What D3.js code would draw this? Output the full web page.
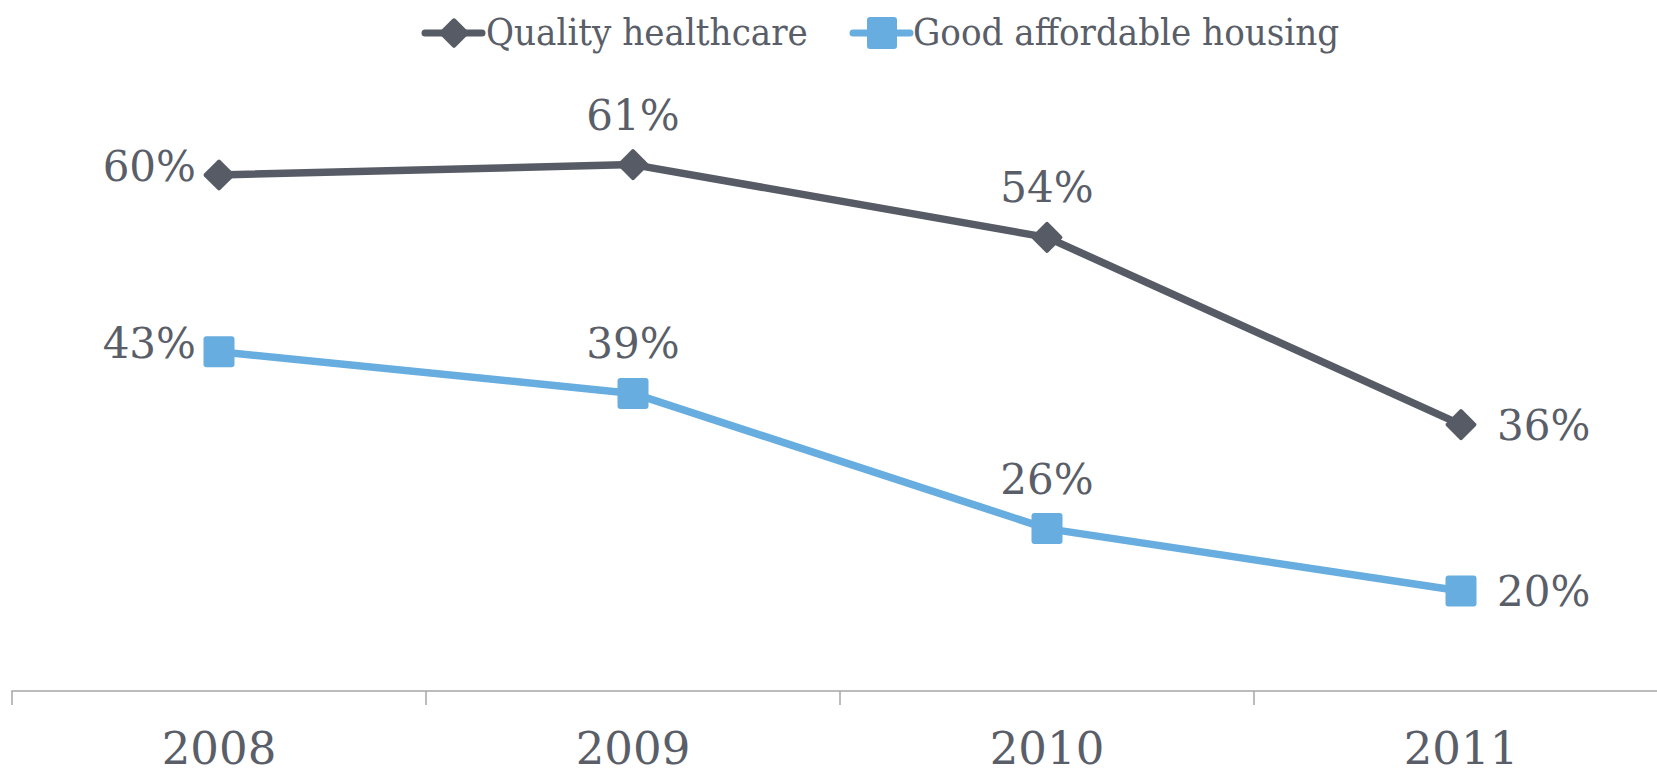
<!DOCTYPE html>
<html>
<head>
<meta charset="utf-8">
<script src="https://cdn.jsdelivr.net/npm/d3@7"></script>
<style>
  html, body { margin: 0; padding: 0; background: #ffffff; }
  svg { display: block; }
</style>
</head>
<body>
<svg id="chart" width="1657" height="770"></svg>
<script>
// ---- data ----
const years = ["2008", "2009", "2010", "2011"];
const healthcare = [60, 61, 54, 36];
const housing = [43, 39, 26, 20];
const seriesNames = ["Quality healthcare", "Good affordable housing"];
const healthcareLabelPos = ["left", "above", "above", "right"];
const housingLabelPos = ["left", "above", "above", "right"];

// ---- style ----
const darkColor = "#565b65";
const blueColor = "#67ade0";
const textColor = "#595e68";
const axisColor = "#a6a6a6";
const font = "'DejaVu Serif', Georgia, serif";

const svg = d3.select("#chart");

const x = d3.scaleBand().domain(years).range([12, 1668]).paddingInner(0).paddingOuter(0);
const y = d3.scaleLinear().domain([10, 70]).range([695, 71]);

// ---- axis ----
const axisY = 691;
const xAxis = d3.axisBottom(x).tickSize(14).tickSizeOuter(0).tickFormat("");
const axisG = svg.append("g").attr("transform", `translate(0,${axisY})`).call(xAxis);
axisG.select(".domain").attr("stroke", axisColor).attr("stroke-width", 1.5)
  .attr("d", `M12,0.5V0H1657`);
axisG.selectAll(".tick").remove();
const boundaries = years.map(d => x(d)).concat([x(years[years.length - 1]) + x.bandwidth()]);
axisG.selectAll("line.bound").data(boundaries).enter().append("line")
  .attr("class", "bound")
  .attr("x1", d => d).attr("x2", d => d)
  .attr("y1", 0).attr("y2", 14)
  .attr("stroke", axisColor).attr("stroke-width", 1.5);
svg.append("g").selectAll("text").data(years).enter().append("text")
  .attr("x", d => x(d) + x.bandwidth() / 2)
  .attr("y", 764)
  .attr("text-anchor", "middle")
  .attr("font-family", font)
  .attr("font-size", 45)
  .attr("fill", textColor)
  .text(d => d);

const cx = d => x(d) + x.bandwidth() / 2;

const line = d3.line().x(d => cx(d.year)).y(d => y(d.value));

function drawSeries(values, color, marker, labelPos) {
  const pts = years.map((yr, i) => ({ year: yr, value: values[i], pos: labelPos[i] }));
  svg.append("path").datum(pts)
    .attr("d", line)
    .attr("fill", "none")
    .attr("stroke", color)
    .attr("stroke-width", 7.5)
    .attr("stroke-linejoin", "round");
  const g = svg.append("g");
  if (marker === "diamond") {
    g.selectAll("rect").data(pts).enter().append("rect")
      .attr("x", -11.5).attr("y", -11.5).attr("width", 23).attr("height", 23)
      .attr("rx", 2)
      .attr("transform", d => `translate(${cx(d.year)},${y(d.value)}) rotate(45)`)
      .attr("fill", color);
  } else {
    g.selectAll("rect").data(pts).enter().append("rect")
      .attr("x", d => cx(d.year) - 15.5).attr("y", d => y(d.value) - 15.5)
      .attr("width", 31).attr("height", 31).attr("rx", 3)
      .attr("fill", color);
  }
  svg.append("g").selectAll("text").data(pts).enter().append("text")
    .attr("font-family", font)
    .attr("font-size", 42)
    .attr("fill", textColor)
    .attr("text-anchor", d => d.pos === "left" ? "end" : d.pos === "right" ? "start" : "middle")
    .attr("x", d => d.pos === "left" ? cx(d.year) - 23 : d.pos === "right" ? cx(d.year) + 36 : cx(d.year))
    .attr("y", d => d.pos === "left" ? y(d.value) + 6 : d.pos === "right" ? y(d.value) + 15 : y(d.value) - 35)
    .text(d => d.value + "%");
}

drawSeries(healthcare, darkColor, "diamond", healthcareLabelPos);
drawSeries(housing, blueColor, "square", housingLabelPos);

// ---- legend ----
const legend = svg.append("g");
const legendItems = [
  { name: seriesNames[0], color: darkColor, marker: "diamond", lx: 425, tx: 486 },
  { name: seriesNames[1], color: blueColor, marker: "square", lx: 853, tx: 913 }
];
const ly = 33;
legendItems.forEach(it => {
  legend.append("line")
    .attr("x1", it.lx).attr("x2", it.lx + 57)
    .attr("y1", ly).attr("y2", ly)
    .attr("stroke", it.color).attr("stroke-width", 7).attr("stroke-linecap", "round");
  const mx = it.lx + 29;
  if (it.marker === "diamond") {
    legend.append("rect").attr("x", -11).attr("y", -11).attr("width", 22).attr("height", 22)
      .attr("rx", 2).attr("transform", `translate(${mx},${ly}) rotate(45)`).attr("fill", it.color);
  } else {
    legend.append("rect").attr("x", mx - 15).attr("y", ly - 16).attr("width", 30).attr("height", 32)
      .attr("rx", 3).attr("fill", it.color);
  }
  const t = legend.append("text")
    .attr("x", it.tx).attr("y", 45)
    .attr("font-family", font).attr("font-size", 38)
    .attr("fill", textColor)
    .text(it.name);
  const w = t.node().getComputedTextLength();
  t.attr("textLength", w * 0.9).attr("lengthAdjust", "spacingAndGlyphs");
});
</script>
</body>
</html>
